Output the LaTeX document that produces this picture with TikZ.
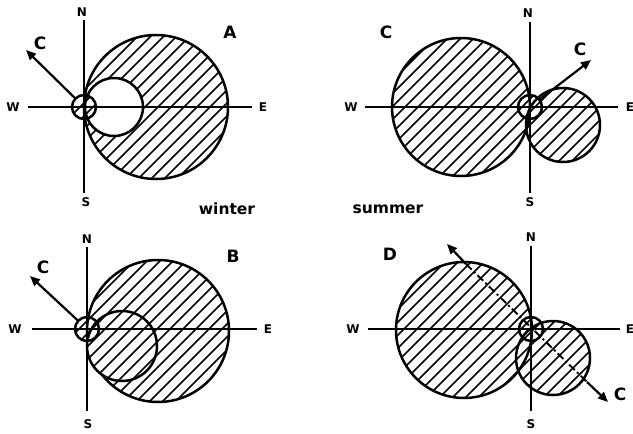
\documentclass[tikz,border=0pt]{standalone}
\usepackage{fontspec}
\setmainfont{DejaVu Sans}
\usetikzlibrary{arrows.meta}
\tikzset{
  axis/.style={line width=1.9pt},
  rim/.style={line width=2.5pt},
  hatchline/.style={line width=1.6pt},
  cdir/.style={line width=2.2pt,-{Triangle[length=10pt,width=8.5pt]}},
  dirdash/.style={line width=1.9pt, dash pattern=on 8pt off 3pt on 2pt off 3pt},
  smalllab/.style={font=\bfseries\fontsize{12}{12}\selectfont, inner sep=0pt},
  biglab/.style={font=\bfseries\fontsize{17}{17}\selectfont, inner sep=0pt},
  season/.style={font=\bfseries\fontsize{15.5}{15.5}\selectfont, inner sep=0pt},
}
\newcommand{\hatchall}{\foreach \k in {-442,-429,...,640} {\draw[hatchline] (\k,434) -- ({\k+434},0);}}
\begin{document}
\begin{tikzpicture}[x=1pt,y=-1pt]
\useasboundingbox (0,0) rectangle (633,434);

% ---------------- Panel A ----------------
\coordinate (OA) at (84,107);
\coordinate (AN) at (84,20);  \coordinate (AS) at (84,193);
\coordinate (AW) at (28,107); \coordinate (AE) at (252,107);
\coordinate (AC) at (26,50);
\begin{scope}[even odd rule]
  \clip (156,107) circle[radius=72pt] (114,107) circle[radius=29pt];
  \hatchall
\end{scope}
\begin{scope}
  \clip (OA) circle[radius=12pt];
  \fill[white] (OA) circle[radius=12pt];
  \hatchall
\end{scope}
\draw[axis] (AN) -- (AS);
\draw[axis] (AW) -- (AE);
\draw[rim] (156,107) circle[radius=72pt];
\draw[rim] (114,107) circle[radius=29pt];
\draw[rim] (OA) circle[radius=12pt];
\draw[cdir, shorten <=12pt] (OA) -- (AC);
\node[smalllab] (labAN) at (82,12) {N};
\node[smalllab] (labAS) at (86,202) {S};
\node[smalllab] (labAW) at (13,107) {W};
\node[smalllab] (labAE) at (263,107) {E};
\node[biglab] (labAC) at (40,43) {C};
\node[biglab] (labA) at (230,32) {A};
\node[season] (winter) at (227,209) {winter};

% ---------------- Panel C (top right) ----------------
\coordinate (OC) at (530,107);
\coordinate (CN) at (530,22);  \coordinate (CS) at (530,193);
\coordinate (CW) at (365,107); \coordinate (CE) at (618,107);
\coordinate (CC) at (591,60);
\begin{scope}
  \clip (461,107) circle[radius=69pt] (563,125) circle[radius=37pt];
  \hatchall
\end{scope}
\begin{scope}
  \clip (OC) circle[radius=12pt];
  \fill[white] (OC) circle[radius=12pt];
  \hatchall
\end{scope}
\draw[axis] (CN) -- (CS);
\draw[axis] (CW) -- (CE);
\draw[rim] (461,107) circle[radius=69pt];
\draw[rim] (563,125) circle[radius=37pt];
\draw[rim] (OC) circle[radius=12pt];
\draw[cdir, shorten <=12pt] (OC) -- (CC);
\node[smalllab] (labCN) at (528,13) {N};
\node[smalllab] (labCS) at (530,202) {S};
\node[smalllab] (labCW) at (351,107) {W};
\node[smalllab] (labCE) at (630,107) {E};
\node[biglab] (labCC) at (580,49) {C};
\node[biglab] (labC) at (386,32) {C};
\node[season] (summer) at (388,209) {summer};

% ---------------- Panel B ----------------
\coordinate (OB) at (87,329);
\coordinate (BN) at (87,247);  \coordinate (BS) at (87,411);
\coordinate (BW) at (32,329);  \coordinate (BE) at (257,329);
\coordinate (BC) at (30,276);
\begin{scope}
  \clip (158,331) circle[radius=71pt] (122,346) circle[radius=35pt];
  \hatchall
\end{scope}
\begin{scope}
  \clip (OB) circle[radius=12pt];
  \fill[white] (OB) circle[radius=12pt];
  \hatchall
\end{scope}
\draw[axis] (BN) -- (BS);
\draw[axis] (BW) -- (BE);
\begin{scope}[even odd rule]
  \clip (0,0) rectangle (633,434) (122,346) circle[radius=35pt];
  \draw[rim] (158,331) circle[radius=71pt];
\end{scope}
\draw[rim] (122,346) circle[radius=35pt];
\draw[rim] (OB) circle[radius=12pt];
\draw[cdir, shorten <=12pt] (OB) -- (BC);
\node[smalllab] (labBN) at (87,239) {N};
\node[smalllab] (labBS) at (88,424) {S};
\node[smalllab] (labBW) at (15,329) {W};
\node[smalllab] (labBE) at (268,329) {E};
\node[biglab] (labBC) at (43,267) {C};
\node[biglab] (labB) at (233,256) {B};

% ---------------- Panel D ----------------
\coordinate (OD) at (531,329);
\coordinate (DN) at (531,246);  \coordinate (DS) at (531,411);
\coordinate (DW) at (368,329);  \coordinate (DE) at (620,329);
\coordinate (DA1) at (447,244); \coordinate (DP1) at (466,264);
\coordinate (DP2) at (587,382); \coordinate (DA2) at (608,402);
\begin{scope}
  \clip (464,330) circle[radius=68pt] (553,358) circle[radius=37pt];
  \hatchall
\end{scope}
\begin{scope}
  \clip (OD) circle[radius=12pt];
  \fill[white] (OD) circle[radius=12pt];
  \hatchall
\end{scope}
\draw[axis] (DN) -- (DS);
\draw[axis] (DW) -- (DE);
\draw[rim] (464,330) circle[radius=68pt];
\draw[rim] (553,358) circle[radius=37pt];
\draw[rim] (OD) circle[radius=12pt];
\draw[dirdash] (DP1) -- (DP2);
\draw[cdir] (DP1) -- (DA1);
\draw[cdir] (DP2) -- (DA2);
\node[smalllab] (labDN) at (531,237) {N};
\node[smalllab] (labDS) at (531,424) {S};
\node[smalllab] (labDW) at (353,329) {W};
\node[smalllab] (labDE) at (630,329) {E};
\node[biglab] (labDC) at (620,394) {C};
\node[biglab] (labD) at (390,254) {D};
\end{tikzpicture}
\end{document}
